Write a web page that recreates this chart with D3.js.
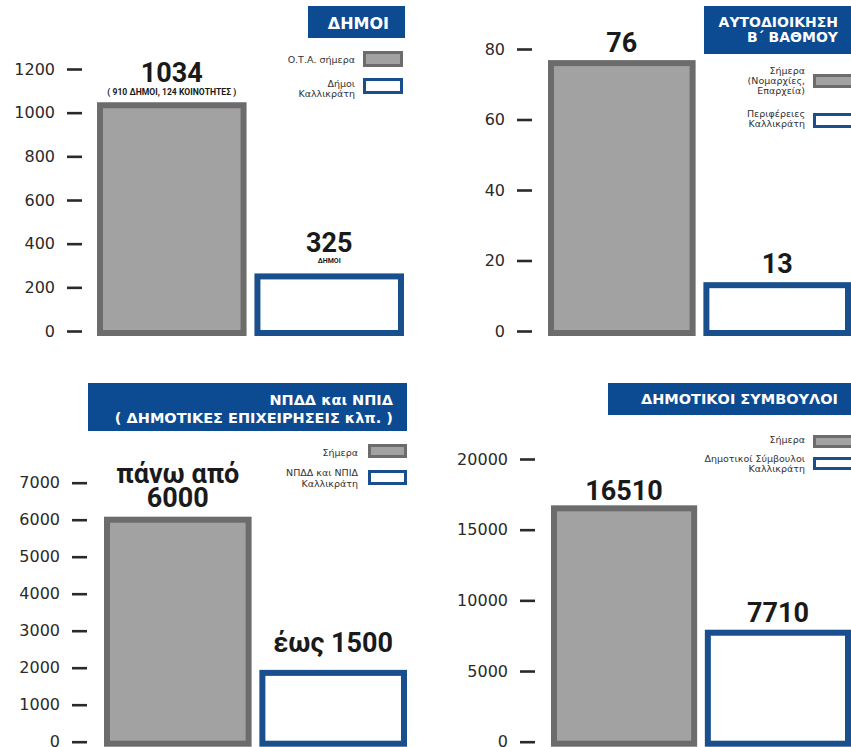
<!DOCTYPE html>
<html>
<head>
<meta charset="utf-8">
<script src="https://cdn.jsdelivr.net/npm/d3@7/dist/d3.min.js"></script>
<style>
  html, body { margin: 0; padding: 0; background: #fff; }
  svg { display: block; }
</style>
</head>
<body>
<svg id="chart" width="851" height="747"></svg>
<script>
// ---------------- DATA ----------------
const panelTitles = [
  ["ΔΗΜΟΙ"],
  ["ΑΥΤΟΔΙΟΙΚΗΣΗ", "Β΄ ΒΑΘΜΟΥ"],
  ["ΝΠΔΔ και ΝΠΙΔ", "( ΔΗΜΟΤΙΚΕΣ ΕΠΙΧΕΙΡΗΣΕΙΣ κλπ. )"],
  ["ΔΗΜΟΤΙΚΟΙ ΣΥΜΒΟΥΛΟΙ"]
];
const categories = ["Σήμερα", "Καλλικράτης"];
// bar heights as drawn in the picture
const todayValues = [1034, 76, 6000, 16510];
const kallikratisValues = [250, 13, 1860, 7710];
// printed value labels
const todayLabels = [["1034"], ["76"], ["πάνω από", "6000"], ["16510"]];
const kallikratisLabels = [["325"], ["13"], ["έως 1500"], ["7710"]];
const todayNotes = ["( 910 ΔΗΜΟΙ, 124 ΚΟΙΝΟΤΗΤΕΣ )", "", "", ""];
const kallikratisNotes = ["ΔΗΜΟΙ", "", "", ""];
const legendToday = [["Ο.Τ.Α. σήμερα"], ["Σήμερα", "(Νομαρχίες,", "Επαρχεία)"], ["Σήμερα"], ["Σήμερα"]];
const legendKallikratis = [["Δήμοι", "Καλλικράτη"], ["Περιφέρειες", "Καλλικράτη"], ["ΝΠΔΔ και ΝΠΙΔ", "Καλλικράτη"], ["Δημοτικοί Σύμβουλοι", "Καλλικράτη"]];
const yMax = [1200, 80, 7000, 20000];
const tickValues = [
  [0, 200, 400, 600, 800, 1000, 1200],
  [0, 20, 40, 60, 80],
  [0, 1000, 2000, 3000, 4000, 5000, 6000, 7000],
  [0, 5000, 10000, 15000, 20000]
];

// ---------------- LAYOUT ----------------
const layout = [
  { y0: 331, y1: 69, axisX: 82, bx: [97, 404],
    title: { x: 308, y: 6, w: 97, h: 32, tx: 389, ty: [29], fs: 16 },
    leg: { sx: 363, sw: 40, s1: [51, 16], s2: [78, 16], lx: 355, l1: [63], l2: [87, 96.5] },
    off: [[23], [24]], noteOff: [10, 11] },
  { y0: 331, y1: 49, axisX: 532, bx: [548, 851],
    title: { x: 704, y: 6, w: 150, h: 48, tx: 838, ty: [27, 42], fs: 14 },
    leg: { sx: 813, sw: 42, s1: [74, 14], s2: [113, 15], lx: 805, l1: [74, 84, 94], l2: [117, 127] },
    off: [[11], [12]], noteOff: [0, 0] },
  { y0: 741.7, y1: 482.7, axisX: 87, bx: [104, 407],
    title: { x: 88, y: 383, w: 319, h: 48, tx: 393, ty: [405, 423], fs: 14.5 },
    leg: { sx: 368, sw: 39, s1: [444, 14], s2: [470, 15], lx: 358, l1: [456], l2: [476, 487] },
    off: [[37, 13], [21]], noteOff: [0, 0] },
  { y0: 741.7, y1: 459, axisX: 535, bx: [551, 851],
    title: { x: 608, y: 383, w: 250, h: 32, tx: 838, ty: [404], fs: 14.5 },
    leg: { sx: 813, sw: 42, s1: [435, 13], s2: [457, 13], lx: 805, l1: [443], l2: [462, 472] },
    off: [[8], [11]], noteOff: [0, 0] }
];

const BLUE = "#0c4a92";
const BAR_BLUE = "#1a4f8d";
const GRAY_FILL = "#a2a2a2";
const GRAY_STROKE = "#6c6c6c";
const TXT = "#2a2a2a";
const SW = 6;

const svg = d3.select("#chart");

layout.forEach((L, i) => {
  const g = svg.append("g");
  const y = d3.scaleLinear().domain([0, yMax[i]]).range([L.y0, L.y1]);
  const x = d3.scaleBand().domain(categories).range(L.bx).paddingInner(0.05);

  // axis
  const axis = d3.axisLeft(y).tickValues(tickValues[i]).tickSize(15).tickPadding(12)
    .tickFormat(d3.format("d"));
  const ag = g.append("g").attr("transform", `translate(${L.axisX},0)`).call(axis);
  ag.select(".domain").remove();
  ag.selectAll(".tick line").attr("stroke", TXT).attr("stroke-width", 2.6);
  ag.selectAll(".tick text").attr("fill", TXT)
    .style("font-family", "'DejaVu Sans', sans-serif").style("font-size", "16px");

  // bars
  const vals = [todayValues[i], kallikratisValues[i]];
  g.selectAll("rect.bar").data(categories).join("rect")
    .attr("class", "bar")
    .attr("x", d => x(d) + SW / 2)
    .attr("width", x.bandwidth() - SW)
    .attr("y", (d, j) => y(vals[j]))
    .attr("height", (d, j) => y(0) - y(vals[j]) + 2)
    .attr("fill", (d, j) => j === 0 ? GRAY_FILL : "#fff")
    .attr("stroke", (d, j) => j === 0 ? GRAY_STROKE : BAR_BLUE)
    .attr("stroke-width", SW);

  // value labels
  const labels = [todayLabels[i], kallikratisLabels[i]];
  const notes = [todayNotes[i], kallikratisNotes[i]];
  labels.forEach((lines, j) => {
    const cx = x(categories[j]) + x.bandwidth() / 2;
    const top = y(vals[j]);
    lines.forEach((t, k) => {
      g.append("text").attr("x", cx).attr("y", top - L.off[j][k])
        .attr("text-anchor", "middle").attr("fill", "#1a1a1a")
        .style("font-family", "Roboto, sans-serif").style("font-weight", 700)
        .style("font-size", "27px").text(t);
    });
    if (notes[j]) {
      g.append("text").attr("x", cx).attr("y", top - L.off[j][0] + L.noteOff[j] + (j === 0 ? 3 : 0))
        .attr("text-anchor", "middle").attr("fill", "#1a1a1a")
        .style("font-family", "Roboto, sans-serif").style("font-weight", 700)
        .style("font-size", j === 0 ? "8.6px" : "7px").text(notes[j]);
    }
  });

  // title box
  const T = L.title;
  g.append("rect").attr("x", T.x).attr("y", T.y).attr("width", T.w).attr("height", T.h).attr("fill", BLUE);
  panelTitles[i].forEach((t, k) => {
    g.append("text").attr("x", T.tx).attr("y", T.ty[k]).attr("text-anchor", "end")
      .attr("fill", "#fff").style("font-family", "'DejaVu Sans', sans-serif")
      .style("font-weight", 700).style("font-size", T.fs + "px").text(t);
  });

  // legend
  const G = L.leg;
  g.append("rect").attr("x", G.sx + 1.5).attr("y", G.s1[0] + 1.5).attr("width", G.sw - 3).attr("height", G.s1[1] - 3)
    .attr("fill", GRAY_FILL).attr("stroke", GRAY_STROKE).attr("stroke-width", 3);
  g.append("rect").attr("x", G.sx + 1.5).attr("y", G.s2[0] + 1.5).attr("width", G.sw - 3).attr("height", G.s2[1] - 3)
    .attr("fill", "#fff").attr("stroke", BAR_BLUE).attr("stroke-width", 3);
  const legTexts = [[legendToday[i], G.l1], [legendKallikratis[i], G.l2]];
  legTexts.forEach(([lines, ys]) => {
    lines.forEach((t, k) => {
      g.append("text").attr("x", G.lx).attr("y", ys[k]).attr("text-anchor", "end")
        .attr("fill", "#333").style("font-family", "'DejaVu Sans', sans-serif")
        .style("font-size", "9.5px").text(t);
    });
  });
});
</script>
</body>
</html>
